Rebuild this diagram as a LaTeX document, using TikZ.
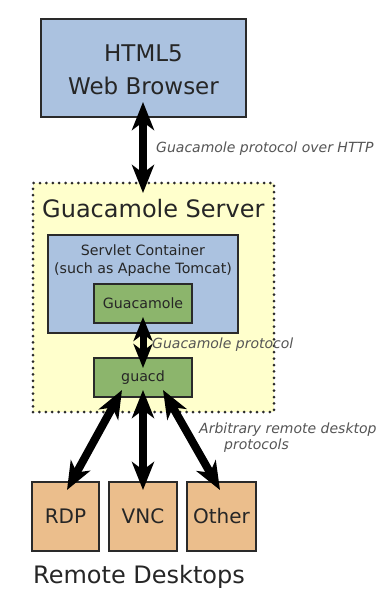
\documentclass[tikz,border=0pt]{standalone}
\usepackage{fontspec}
\setmainfont{DejaVu Sans}
\usetikzlibrary{arrows.meta,calc}
\definecolor{bluebox}{HTML}{ABC2E0}
\definecolor{greenbox}{HTML}{8CB56C}
\definecolor{orangebox}{HTML}{EBBE8C}
\definecolor{yellowbg}{HTML}{FFFFCC}
\definecolor{edge}{HTML}{2A2A2A}
\definecolor{ink}{HTML}{262626}
\definecolor{labelgray}{HTML}{555555}
\tikzset{
  box/.style={draw=edge, line width=2pt, inner sep=0pt, outer sep=0pt, anchor=north west, text=ink},
  bigtext/.style={font=\fontsize{23}{33}\selectfont, text=ink, inner sep=0pt},
  titletext/.style={font=\fontsize{24}{30}\selectfont, text=ink, inner sep=0pt},
  midtext/.style={font=\fontsize{14.2}{18}\selectfont, text=ink, inner sep=0pt},
  deskfont/.style={font=\fontsize{20}{24}\selectfont},
  lbl/.style={font=\fontsize{14}{18}\selectfont\itshape, text=labelgray, inner sep=0pt, anchor=base west},
  bigarrow/.style={line width=8pt, draw=black, {Stealth[length=28pt,width=22pt,inset=8pt]}-{Stealth[length=28pt,width=22pt,inset=8pt]}},
  smallarrow/.style={line width=7pt, draw=black, {Stealth[length=24pt,width=19pt,inset=7pt]}-{Stealth[length=24pt,width=19pt,inset=7pt]}},
}
\begin{document}
\begin{tikzpicture}[x=1pt,y=1pt]
\useasboundingbox[fill=white] (0,0) rectangle (379,-589);
% browser
\node[box, fill=bluebox, minimum width=205pt, minimum height=98pt] (browser) at (41,-19) {};
\node[bigtext, align=center] (browsertxt) at ($(browser.center)+(0,-2)$) {HTML5\\Web Browser};
% server
\node[box, fill=yellowbg, draw=edge, line width=3pt, dash pattern=on 0pt off 6.4pt, line cap=round, minimum width=241pt, minimum height=229pt] (server) at (33,-183) {};
\node[titletext, anchor=base west] (servertxt) at (42,-217) {Guacamole Server};
% servlet container
\node[box, fill=bluebox, minimum width=190pt, minimum height=98pt] (servlet) at (48,-235) {};
\node[midtext, anchor=base] (servlet1) at (143,-255) {Servlet Container};
\node[midtext, anchor=base] (servlet2) at (143,-273) {(such as Apache Tomcat)};
% guacamole and guacd
\node[box, fill=greenbox, minimum width=98pt, minimum height=39pt] (guac) at (94,-284) {};
\node[midtext] (guactxt) at (guac.center) {Guacamole};
\node[box, fill=greenbox, minimum width=98pt, minimum height=39pt] (guacd) at (94,-358) {};
\node[midtext] (guacdtxt) at (guacd.center) {guacd};
% remote desktops
\node[box, fill=orangebox, minimum width=67pt, minimum height=69pt] (rdp) at (32,-482) {};
\node[box, fill=orangebox, minimum width=68pt, minimum height=69pt] (vnc) at (109,-482) {};
\node[box, fill=orangebox, minimum width=69pt, minimum height=69pt] (other) at (187,-482) {};
\node[deskfont, text=ink, inner sep=0pt] (rdptxt) at (rdp.center) {RDP};
\node[deskfont, text=ink, inner sep=0pt] (vnctxt) at (vnc.center) {VNC};
\node[deskfont, text=ink, inner sep=0pt] (othertxt) at (other.center) {Other};
\node[titletext, anchor=base west] (remotetxt) at (33,-583) {Remote Desktops};
% connector end points
\coordinate (b1) at ($(browser.south)+(-0.5,15)$);
\coordinate (s1) at ($(server.north)+(-10,-10)$);
\coordinate (g1) at ($(guac.south)+(0,6)$);
\coordinate (d1) at ($(guacd.north)+(0,-10)$);
\coordinate (dl) at ($(guacd.south)+(-21,7)$);
\coordinate (dm) at ($(guacd.south)+(0,7)$);
\coordinate (dr) at ($(guacd.south)+(20,7)$);
\coordinate (rt) at ($(rdp.north)+(1.5,-8)$);
\coordinate (vt) at ($(vnc.north)+(0,-8)$);
\coordinate (ot) at ($(other.north)+(-1.5,-8)$);
% connectors
\draw[bigarrow] (b1) -- (b1 |- s1);
\draw[smallarrow] (g1) -- (d1);
\draw[bigarrow] (dl) -- (rt);
\draw[bigarrow] (dm) -- (vt);
\draw[bigarrow] (dr) -- (ot);
% labels
\node[lbl] (l1) at (156,-152) {Guacamole protocol over HTTP};
\node[lbl] (l2) at (152,-348) {Guacamole protocol};
\node[lbl] (l3) at (199,-433) {Arbitrary remote desktop};
\node[lbl] (l4) at (224,-449) {protocols};
\end{tikzpicture}
\end{document}
